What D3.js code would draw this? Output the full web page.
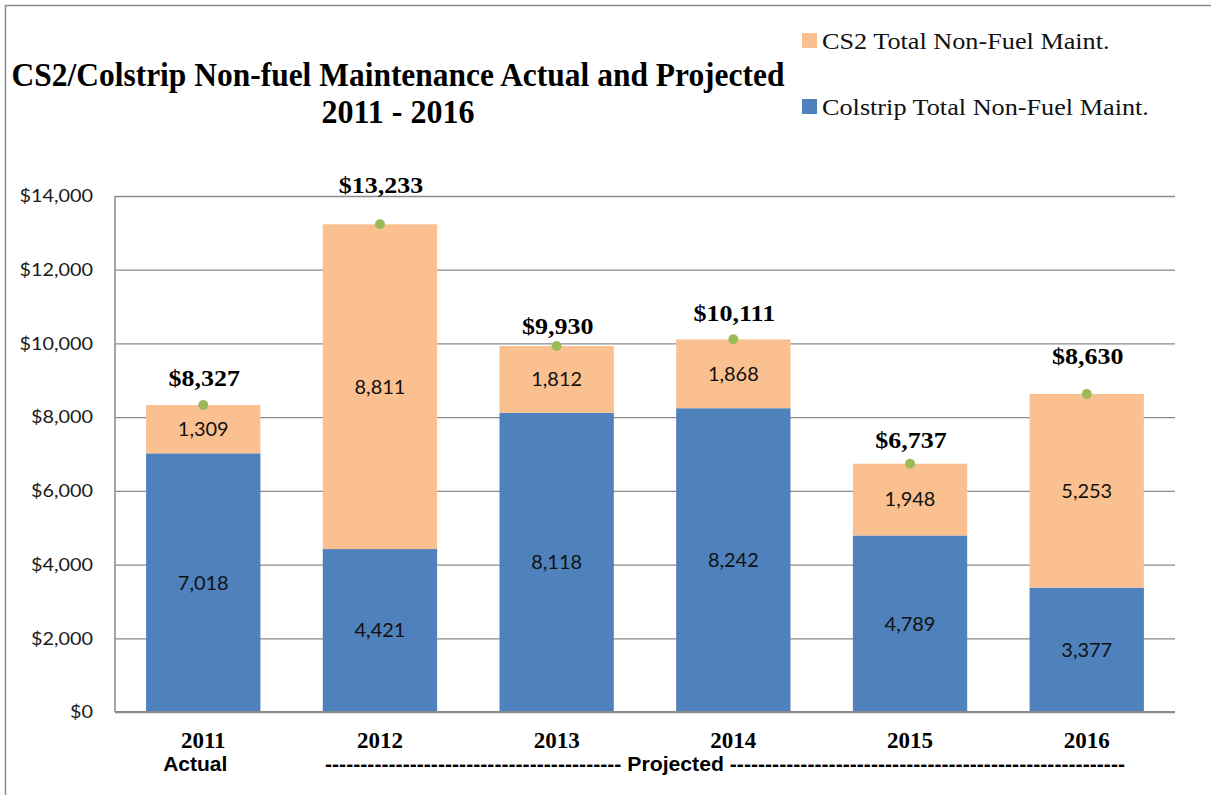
<!DOCTYPE html>
<html>
<head>
<meta charset="utf-8">
<script src="https://cdn.jsdelivr.net/npm/d3@7/dist/d3.min.js"></script>
<style>
  body { margin: 0; background: #fff; }
  svg { display: block; }
</style>
</head>
<body>
<div id="chart"></div>
<script>
'use strict';

// Chart values
var YEARS = ['2011', '2012', '2013', '2014', '2015', '2016'];
var COLSTRIP = [7018, 4421, 8118, 8242, 4789, 3377];
var CS2 = [1309, 8811, 1812, 1868, 1948, 5253];
var TOTALS = [8327, 13233, 9930, 10111, 6737, 8630];
var Y_TICKS = [0, 2000, 4000, 6000, 8000, 10000, 12000, 14000];
var SERIES_NAMES = ['CS2 Total Non-Fuel Maint.', 'Colstrip Total Non-Fuel Maint.'];

// Displaying constants (pixels)
var WIDTH = 1211;
var HEIGHT = 795;
var PLOT = { left: 115, right: 1175, top: 196, bottom: 712 };
var COLOR_COLSTRIP = '#4F81BD';
var COLOR_CS2 = '#FAC090';
var COLOR_DOT = '#9BBB59';
var GRID_COLOR = '#8a8a8a';
// total labels were hand-placed in the original, so each sits a bit differently above its dot
var TOTAL_LABEL_DY = [19, 31, 12, 18, 16, 30];

var svg = d3.select('#chart').append('svg')
  .attr('width', WIDTH)
  .attr('height', HEIGHT);

// stretch text horizontally, the source picture is a bit wide
function widen(sel, k) {
  sel.each(function() {
    var w = this.getComputedTextLength();
    d3.select(this).attr('textLength', w * k).attr('lengthAdjust', 'spacingAndGlyphs');
  });
}

// outer frame (only top and left edges fall inside the picture)
svg.append('rect')
  .attr('x', 5.5).attr('y', 5.5)
  .attr('width', WIDTH + 50).attr('height', HEIGHT + 50)
  .style('fill', 'none')
  .style('stroke', '#8c8c8c')
  .style('stroke-width', 1.5);

var x = d3.scaleBand()
  .domain(YEARS)
  .range([PLOT.left, PLOT.right])
  .paddingInner(0.353)
  .paddingOuter(0.176);

var y = d3.scaleLinear()
  .domain([0, 14000])
  .range([PLOT.bottom, PLOT.top]);

// gridlines + y labels
var yAxis = d3.axisLeft(y)
  .tickValues(Y_TICKS)
  .tickSize(-(PLOT.right - PLOT.left))
  .tickPadding(22)
  .tickFormat(function(d) { return '$' + d3.format(',')(d); });

var gy = svg.append('g')
  .attr('transform', 'translate(' + PLOT.left + ',0)')
  .call(yAxis);
gy.select('.domain').remove();
gy.selectAll('line')
  .style('stroke', GRID_COLOR)
  .style('stroke-width', 1.3);
gy.selectAll('text')
  .style('font-family', 'Lato, "Open Sans", sans-serif')
  .style('font-size', '18px')
  .style('fill', '#1a1a1a')
  .call(widen, 1.1);

// axis frame lines
svg.append('line')
  .attr('x1', PLOT.left).attr('x2', PLOT.left)
  .attr('y1', PLOT.top).attr('y2', PLOT.bottom)
  .style('stroke', GRID_COLOR).style('stroke-width', 1.5);

var rows = YEARS.map(function(yr, i) {
  return { year: yr, colstrip: COLSTRIP[i], cs2: CS2[i], total: TOTALS[i], dy: TOTAL_LABEL_DY[i] };
});

var stack = d3.stack().keys(['colstrip', 'cs2'])(rows);
var colors = { colstrip: COLOR_COLSTRIP, cs2: COLOR_CS2 };

var layers = svg.append('g')
  .selectAll('g')
  .data(stack)
  .enter()
  .append('g')
  .style('fill', function(d) { return colors[d.key]; });

layers.selectAll('rect')
  .data(function(d) { return d; })
  .enter()
  .append('rect')
  .attr('x', function(d) { return x(d.data.year); })
  .attr('width', x.bandwidth())
  .attr('y', function(d) { return y(d[1]); })
  .attr('height', function(d) { return y(d[0]) - y(d[1]); });

// segment value labels
layers.selectAll('text')
  .data(function(d) { return d; })
  .enter()
  .append('text')
  .attr('x', function(d) { return x(d.data.year) + x.bandwidth() / 2; })
  .attr('y', function(d) { return (y(d[0]) + y(d[1])) / 2; })
  .attr('dy', '0.36em')
  .attr('text-anchor', 'middle')
  .style('fill', '#111')
  .style('font-family', 'Lato, "Open Sans", sans-serif')
  .style('font-size', '19px')
  .text(function(d) { return d3.format(',')(d[1] - d[0]); })
  .call(widen, 1.05);

// x axis line
svg.append('line')
  .attr('x1', PLOT.left).attr('x2', PLOT.right)
  .attr('y1', PLOT.bottom).attr('y2', PLOT.bottom)
  .style('stroke', GRID_COLOR).style('stroke-width', 1.8);

// total markers
svg.append('g')
  .selectAll('circle')
  .data(rows)
  .enter()
  .append('circle')
  .attr('cx', function(d) { return x(d.year) + x.bandwidth() / 2; })
  .attr('cy', function(d) { return y(d.total); })
  .attr('r', 5)
  .style('fill', COLOR_DOT);

svg.append('g')
  .selectAll('text')
  .data(rows)
  .enter()
  .append('text')
  .attr('x', function(d) { return x(d.year) + x.bandwidth() / 2 + 1; })
  .attr('y', function(d) { return y(d.total) - d.dy; })
  .attr('text-anchor', 'middle')
  .style('font-family', '"Liberation Serif", "Times New Roman", serif')
  .style('font-weight', 'bold')
  .style('font-size', '23px')
  .text(function(d) { return '$' + d3.format(',')(d.total); })
  .call(widen, 1.13);

// category labels
svg.append('g')
  .selectAll('text')
  .data(YEARS)
  .enter()
  .append('text')
  .attr('x', function(d) { return x(d) + x.bandwidth() / 2; })
  .attr('y', 748)
  .attr('text-anchor', 'middle')
  .style('font-family', '"Liberation Serif", "Times New Roman", serif')
  .style('font-weight', 'bold')
  .style('font-size', '23px')
  .text(function(d) { return d; });

svg.append('text')
  .attr('x', x(YEARS[0]) + x.bandwidth() / 2 - 8)
  .attr('y', 771)
  .attr('text-anchor', 'middle')
  .style('font-family', '"Liberation Sans", Arial, sans-serif')
  .style('font-weight', 'bold')
  .style('font-size', '21px')
  .text('Actual');

svg.append('text')
  .attr('x', 725)
  .attr('y', 771)
  .attr('text-anchor', 'middle')
  .attr('textLength', 800)
  .attr('lengthAdjust', 'spacingAndGlyphs')
  .style('font-family', '"Liberation Sans", Arial, sans-serif')
  .style('font-weight', 'bold')
  .style('font-size', '21px')
  .text(d3.range(42).map(function() { return '-'; }).join('') + ' Projected ' +
        d3.range(56).map(function() { return '-'; }).join(''));

// title
var title = svg.append('text')
  .attr('text-anchor', 'middle')
  .style('font-family', '"Liberation Serif", "Times New Roman", serif')
  .style('font-weight', 'bold')
  .style('font-size', '33px')
  .style('fill', '#000');
title.append('tspan')
  .attr('x', 398).attr('y', 86)
  .attr('textLength', 773)
  .attr('lengthAdjust', 'spacingAndGlyphs')
  .text('CS2/Colstrip Non-fuel Maintenance Actual and Projected');
title.append('tspan')
  .attr('x', 398).attr('y', 123)
  .attr('textLength', 153)
  .attr('lengthAdjust', 'spacingAndGlyphs')
  .text('2011 - 2016');

// legend
var legend = svg.append('g')
  .selectAll('g')
  .data(SERIES_NAMES)
  .enter()
  .append('g')
  .attr('transform', function(d, i) { return 'translate(802,' + (33 + i * 66) + ')'; });

legend.append('rect')
  .attr('width', 15)
  .attr('height', 15)
  .style('fill', function(d, i) { return i === 0 ? COLOR_CS2 : COLOR_COLSTRIP; });

legend.append('text')
  .attr('x', 20)
  .attr('y', 16)
  .style('font-family', '"Liberation Serif", "Times New Roman", serif')
  .style('font-size', '23px')
  .style('fill', '#111')
  .text(function(d) { return d; })
  .call(widen, 1.14);
</script>
</body>
</html>
